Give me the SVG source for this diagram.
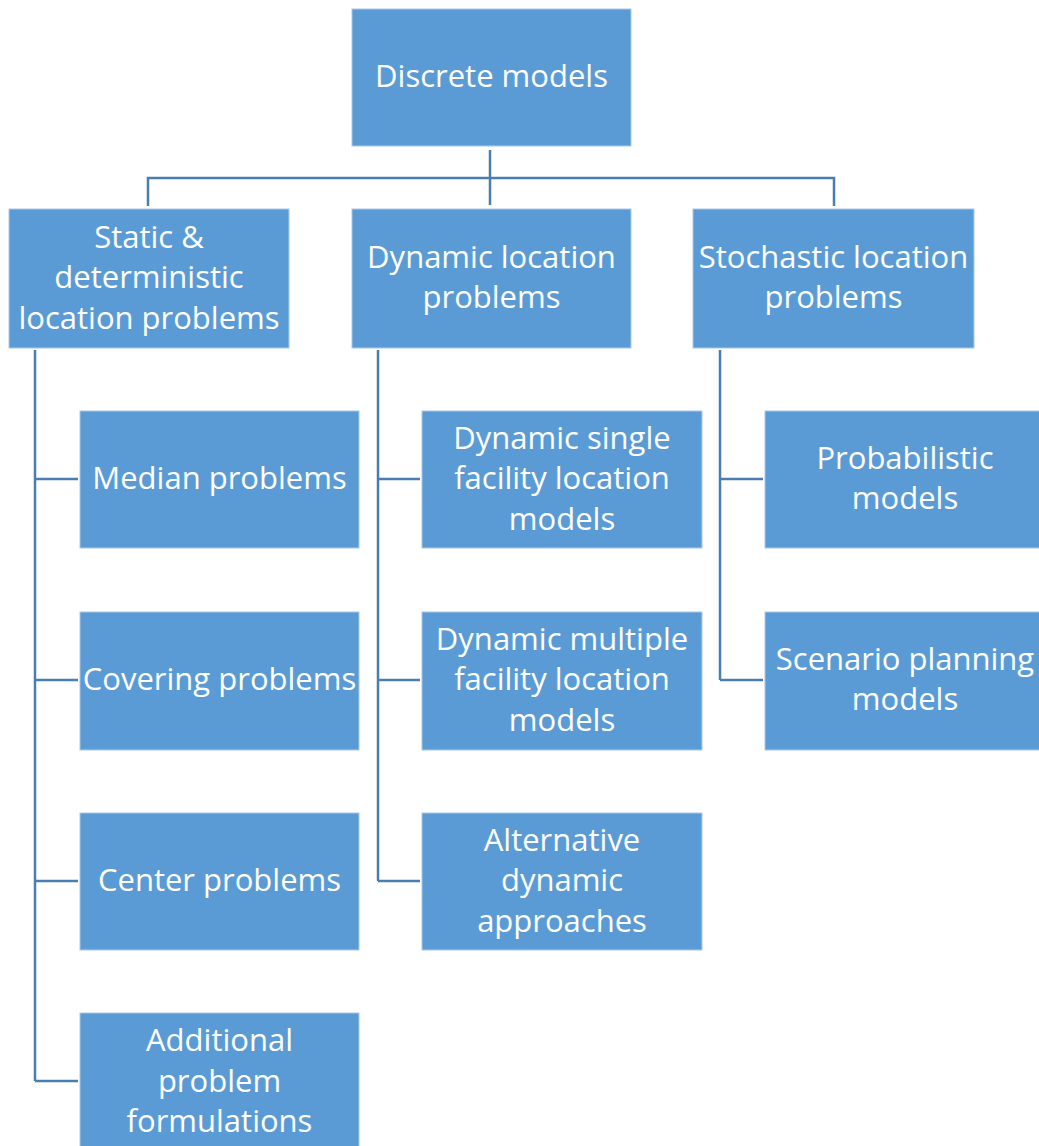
<svg xmlns="http://www.w3.org/2000/svg" width="1039" height="1146" viewBox="0 0 1039 1146">
<style>
.box{fill:#5b9bd5;stroke:#a8c8ea;stroke-width:1}
.t{font-family:"Open Sans","Liberation Sans",sans-serif;font-size:31px;fill:#ffffff;text-anchor:middle}
.c{fill:none;stroke:#4a7eb3;stroke-width:2.5}
</style>
<rect width="1039" height="1146" fill="#ffffff"/>
<g id="connectors">
<path class="c" d="M490,150 V205 M148,206 V178 H834 V206"/>
<path class="c" d="M35,350 V1081 M35,479 H78 M35,680 H78 M35,881 H78 M35,1081 H78"/>
<path class="c" d="M378,350 V881 M378,479 H420 M378,680 H420 M378,881 H420"/>
<path class="c" d="M720,350 V680 M720,479 H763 M720,680 H763"/>
</g>
<g id="n-discrete"><rect class="box" x="352" y="9" width="279" height="137"/><text class="t" x="491.5" y="87">Discrete models</text></g>
<g id="n-static"><rect class="box" x="9" y="209" width="280" height="139"/><text class="t" x="149" y="248">Static &amp;</text><text class="t" x="149" y="288">deterministic</text><text class="t" x="149" y="329">location problems</text></g>
<g id="n-dynamic"><rect class="box" x="352" y="209" width="279" height="139"/><text class="t" x="491.5" y="268">Dynamic location</text><text class="t" x="491.5" y="308">problems</text></g>
<g id="n-stochastic"><rect class="box" x="693" y="209" width="281" height="139"/><text class="t" x="833.5" y="268">Stochastic location</text><text class="t" x="833.5" y="308">problems</text></g>
<g id="n-median"><rect class="box" x="80" y="411" width="279" height="137"/><text class="t" x="219.5" y="489">Median problems</text></g>
<g id="n-covering"><rect class="box" x="80" y="612" width="279" height="138"/><text class="t" x="219.5" y="690">Covering problems</text></g>
<g id="n-center"><rect class="box" x="80" y="813" width="279" height="137"/><text class="t" x="219.5" y="891">Center problems</text></g>
<g id="n-additional"><rect class="box" x="80" y="1013" width="279" height="140"/><text class="t" x="219.5" y="1051">Additional</text><text class="t" x="219.5" y="1092">problem</text><text class="t" x="219.5" y="1132">formulations</text></g>
<g id="n-dsingle"><rect class="box" x="422" y="411" width="280" height="137"/><text class="t" x="562" y="449">Dynamic single</text><text class="t" x="562" y="489">facility location</text><text class="t" x="562" y="530">models</text></g>
<g id="n-dmultiple"><rect class="box" x="422" y="612" width="280" height="138"/><text class="t" x="562" y="650">Dynamic multiple</text><text class="t" x="562" y="690">facility location</text><text class="t" x="562" y="731">models</text></g>
<g id="n-alternative"><rect class="box" x="422" y="813" width="280" height="137"/><text class="t" x="562" y="851">Alternative</text><text class="t" x="562" y="891">dynamic</text><text class="t" x="562" y="932">approaches</text></g>
<g id="n-probabilistic"><rect class="box" x="765" y="411" width="280" height="137"/><text class="t" x="905" y="469">Probabilistic</text><text class="t" x="905" y="509">models</text></g>
<g id="n-scenario"><rect class="box" x="765" y="612" width="280" height="138"/><text class="t" x="905" y="670">Scenario planning</text><text class="t" x="905" y="710">models</text></g>
</svg>
